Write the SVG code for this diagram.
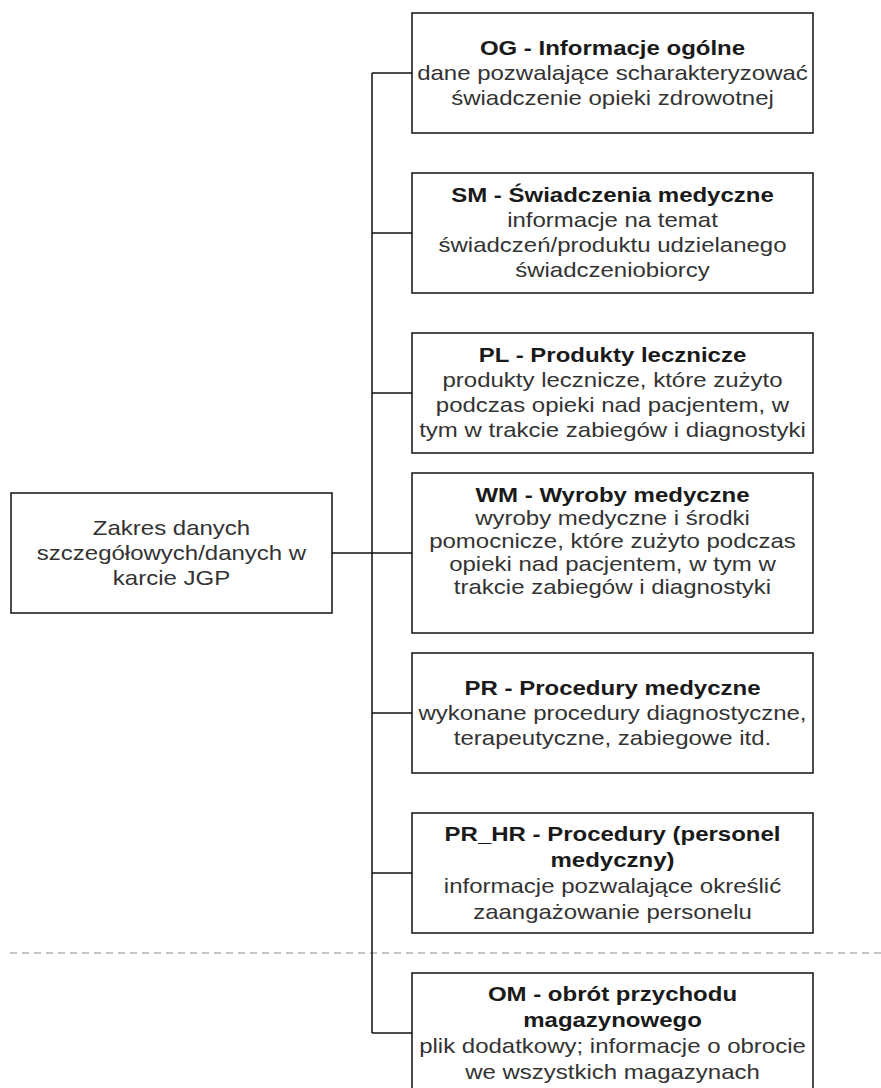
<svg xmlns="http://www.w3.org/2000/svg" width="881" height="1088" viewBox="0 0 881 1088">
  <style>
    .box { fill: #ffffff; stroke: #111111; stroke-width: 1.5; }
    .edge { fill: none; stroke: #111111; stroke-width: 1.5; }
    .sep { fill: none; stroke: #b3b3b3; stroke-width: 1.5; stroke-dasharray: 7 5; }
    text { font-family: "Liberation Sans", Arial, Helvetica, sans-serif; font-size: 20px; text-anchor: middle; fill: #333333; }
    .t { font-weight: bold; fill: #1a1a1a; }
  </style>
  <rect width="881" height="1088" fill="#ffffff"/>

  <!-- separator between base files and the additional file -->
  <line class="sep" x1="10" y1="953" x2="881" y2="953"/>

  <!-- tree connectors from the root node -->
  <g id="connectors">
    <path class="edge" d="M332 553 H372"/>
    <path class="edge" d="M372 73 V1033"/>
    <path class="edge" d="M372 73 H412"/>
    <path class="edge" d="M372 233 H412"/>
    <path class="edge" d="M372 393 H412"/>
    <path class="edge" d="M372 553 H412"/>
    <path class="edge" d="M372 713 H412"/>
    <path class="edge" d="M372 873 H412"/>
    <path class="edge" d="M372 1033 H412"/>
  </g>

  <!-- labels are drawn 1.2x wider than tall -->
  <g id="root">
    <rect class="box" x="11" y="493" width="321" height="120"/>
    <g transform="translate(171.5 0) scale(1.2 1)">
      <text x="0" y="535">Zakres danych</text>
      <text x="0" y="560">szczegółowych/danych w</text>
      <text x="0" y="585">karcie JGP</text>
    </g>
  </g>

  <g id="og">
    <rect class="box" x="412" y="13" width="401" height="120"/>
    <g transform="translate(612.5 0) scale(1.2 1)">
      <text x="0" y="55" class="t">OG - Informacje ogólne</text>
      <text x="0" y="80">dane pozwalające scharakteryzować</text>
      <text x="0" y="105">świadczenie opieki zdrowotnej</text>
    </g>
  </g>

  <g id="sm">
    <rect class="box" x="412" y="173" width="401" height="120"/>
    <g transform="translate(612.5 0) scale(1.2 1)">
      <text x="0" y="202" class="t">SM - Świadczenia medyczne</text>
      <text x="0" y="227">informacje na temat</text>
      <text x="0" y="252">świadczeń/produktu udzielanego</text>
      <text x="0" y="277">świadczeniobiorcy</text>
    </g>
  </g>

  <g id="pl">
    <rect class="box" x="412" y="333" width="401" height="120"/>
    <g transform="translate(612.5 0) scale(1.2 1)">
      <text x="0" y="362" class="t">PL - Produkty lecznicze</text>
      <text x="0" y="387">produkty lecznicze, które zużyto</text>
      <text x="0" y="412">podczas opieki nad pacjentem, w</text>
      <text x="0" y="437">tym w trakcie zabiegów i diagnostyki</text>
    </g>
  </g>

  <g id="wm">
    <rect class="box" x="412" y="473" width="401" height="160"/>
    <g transform="translate(612.5 0) scale(1.2 1)">
      <text x="0" y="502" class="t">WM - Wyroby medyczne</text>
      <text x="0" y="525">wyroby medyczne i środki</text>
      <text x="0" y="548">pomocnicze, które zużyto podczas</text>
      <text x="0" y="571">opieki nad pacjentem, w tym w</text>
      <text x="0" y="594">trakcie zabiegów i diagnostyki</text>
    </g>
  </g>

  <g id="pr">
    <rect class="box" x="412" y="653" width="401" height="120"/>
    <g transform="translate(612.5 0) scale(1.2 1)">
      <text x="0" y="695" class="t">PR - Procedury medyczne</text>
      <text x="0" y="720">wykonane procedury diagnostyczne,</text>
      <text x="0" y="745">terapeutyczne, zabiegowe itd.</text>
    </g>
  </g>

  <g id="pr_hr">
    <rect class="box" x="412" y="813" width="401" height="120"/>
    <g transform="translate(612.5 0) scale(1.2 1)">
      <text x="0" y="841" class="t">PR_HR - Procedury (personel</text>
      <text x="0" y="867" class="t">medyczny)</text>
      <text x="0" y="893">informacje pozwalające określić</text>
      <text x="0" y="919">zaangażowanie personelu</text>
    </g>
  </g>

  <g id="om">
    <rect class="box" x="412" y="973" width="401" height="120"/>
    <g transform="translate(612.5 0) scale(1.2 1)">
      <text x="0" y="1001" class="t">OM - obrót przychodu</text>
      <text x="0" y="1027" class="t">magazynowego</text>
      <text x="0" y="1053">plik dodatkowy; informacje o obrocie</text>
      <text x="0" y="1079">we wszystkich magazynach</text>
    </g>
  </g>
</svg>
